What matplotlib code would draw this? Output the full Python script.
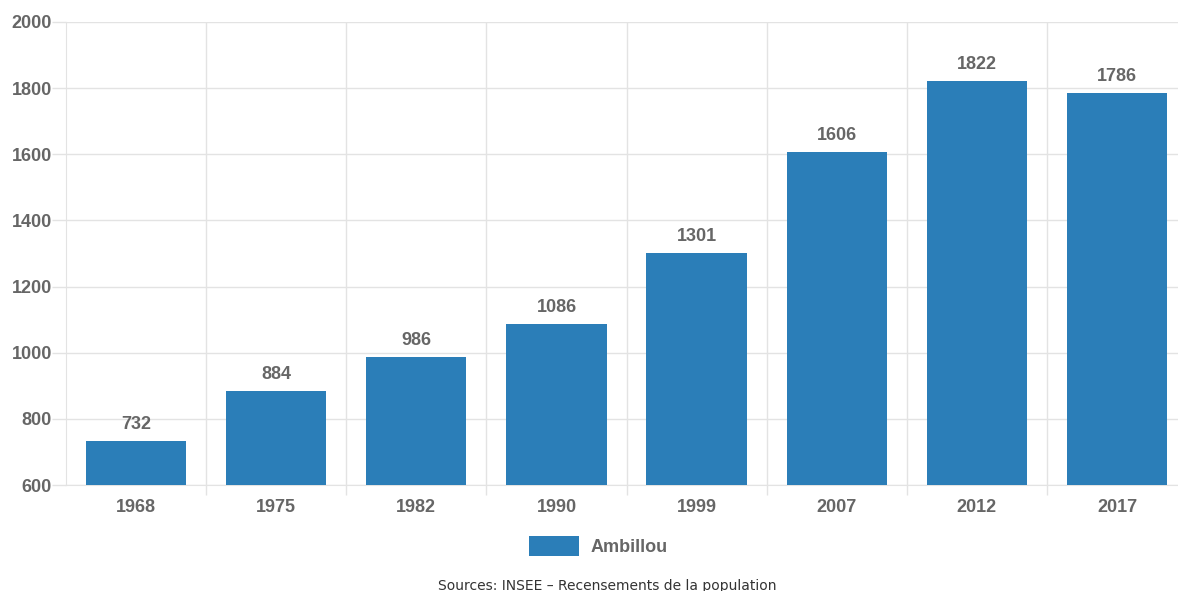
import matplotlib.pyplot as plt
from matplotlib.patches import Patch

years = ['1968', '1975', '1982', '1990', '1999', '2007', '2012', '2017']
population = [732, 884, 986, 1086, 1301, 1606, 1822, 1786]
yticks = [600, 800, 1000, 1200, 1400, 1600, 1800, 2000]

bar_color = '#2b7eb8'
text_color = '#666666'
grid_color = '#e3e3e3'

plt.rcParams['font.family'] = ['Liberation Sans', 'DejaVu Sans']

fig = plt.figure(figsize=(11.78, 5.91), dpi=100)
# plot area runs a bit past the right edge, as in the source image
ax = fig.add_axes([66 / 1178, 1 - 485 / 591, 1121 / 1178, (485 - 22) / 591])

x = range(len(years))
ax.bar(x, population, width=0.715, color=bar_color, zorder=3)
for xi, v in zip(x, population):
    ax.text(xi, v + 25, str(v), ha='center', va='bottom', fontsize=13,
            fontweight='bold', color=text_color)

ax.set_xlim(-0.5, len(years) - 0.5)
ax.set_ylim(600, 2000)
ax.set_yticks(yticks)
ax.set_yticklabels([str(t) for t in yticks], fontsize=13, fontweight='bold',
                   color=text_color)
ax.set_xticks(list(x))
ax.set_xticklabels(years, fontsize=13, fontweight='bold', color=text_color)
ax.set_xticks([i - 0.5 for i in range(1, len(years))], minor=True)

ax.tick_params(axis='x', which='major', length=0, pad=10)
ax.tick_params(axis='x', which='minor', length=7, color=grid_color, width=1)
ax.tick_params(axis='y', length=10, color=grid_color, width=1, pad=0)

ax.grid(True, axis='y', color=grid_color, linewidth=1, zorder=0)
ax.grid(True, axis='x', which='minor', color=grid_color, linewidth=1, zorder=0)

for side in ['top', 'right']:
    ax.spines[side].set_visible(False)
ax.spines['left'].set_color(grid_color)
ax.spines['bottom'].set_color(grid_color)

handles = [Patch(facecolor=bar_color, label='Ambillou')]
leg = fig.legend(handles=handles, loc='center', bbox_to_anchor=(598 / 1178, 1 - 546 / 591),
                 frameon=False, handlelength=2.8, handleheight=1.3, handletextpad=0.6,
                 prop={'size': 13, 'weight': 'bold'})
for t in leg.get_texts():
    t.set_color(text_color)

fig.text(607 / 1178, 1 - 586 / 591, 'Sources: INSEE \u2013 Recensements de la population',
         ha='center', va='center', fontsize=10, color='#333333', family=['DejaVu Sans'])

fig.savefig('out.png', dpi=100, facecolor='white')
